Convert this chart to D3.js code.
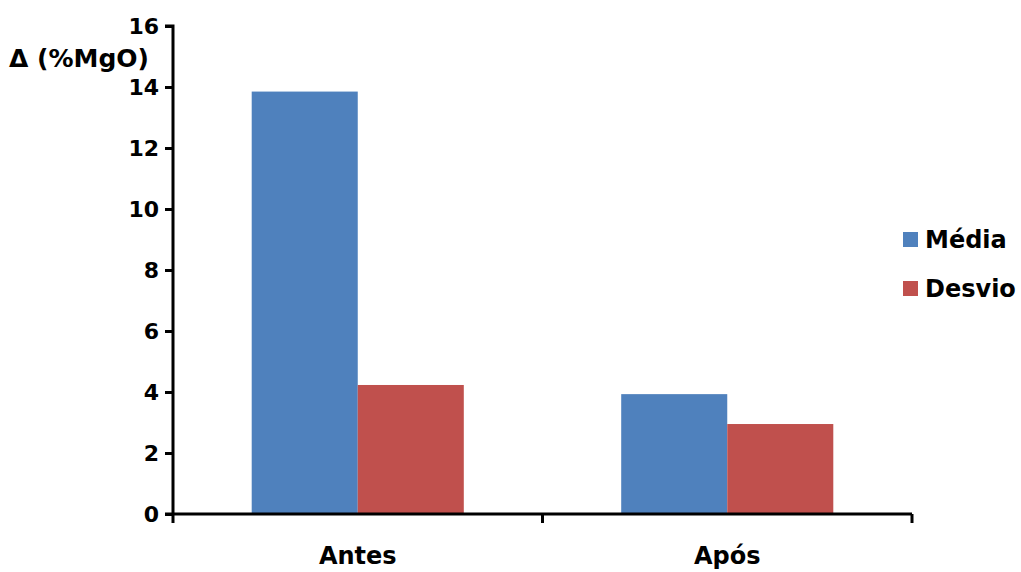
<!DOCTYPE html>
<html><head><meta charset="utf-8">
<script src="https://cdn.jsdelivr.net/npm/d3@7"></script>
<style>body{margin:0;background:#fff}svg{display:block}text{font-family:"DejaVu Sans",sans-serif;font-weight:bold;fill:#000}</style>
</head><body><svg id="c" width="1021" height="572"></svg>
<script>
const categories = ["Antes", "Após"];
const seriesNames = ["Média", "Desvio"];
const media = [13.85, 3.93];
const desvio = [4.23, 2.95];
const yTicks = [0, 2, 4, 6, 8, 10, 12, 14, 16];
const colors = ["#4F81BD", "#C0504D"];

const svg = d3.select("#c");
const x0 = 173, x1 = 912, yTop = 26, yBot = 514;
const x = d3.scaleBand().domain(categories).range([x0, x1]).padding(0);
const y = d3.scaleLinear().domain([0, 16]).range([yBot, yTop]);
const groupW = x.bandwidth() * 0.574;
const xs = d3.scaleBand().domain(seriesNames).range([0, groupW]).padding(0);
const data = [media, desvio];

// bars
seriesNames.forEach((s, si) => {
  svg.append("g").selectAll("rect").data(categories).join("rect")
    .attr("x", d => x(d) + (x.bandwidth() - groupW) / 2 + xs(s))
    .attr("width", xs.bandwidth())
    .attr("y", (d, i) => y(data[si][i]))
    .attr("height", (d, i) => y(0) - y(data[si][i]))
    .attr("fill", colors[si]);
});

// y axis
const yAxis = d3.axisLeft(y).tickValues(yTicks).tickSize(8).tickPadding(6);
const gy = svg.append("g").attr("transform", `translate(${x0},0)`).call(yAxis);
gy.select(".domain").attr("stroke", "#000").attr("stroke-width", 3).attr("d", `M-8,${yTop}H0V${yBot}`);
gy.selectAll(".tick line").attr("stroke", "#000").attr("stroke-width", 3);
gy.selectAll(".tick text").attr("font-size", 22).attr("font-family", "DejaVu Sans").attr("font-weight", "bold").attr("fill", "#000");

// x axis
const gx = svg.append("g").attr("transform", `translate(0,${yBot})`);
gx.append("line").attr("x1", x0 - 8).attr("x2", x1).attr("y1", 0).attr("y2", 0).attr("stroke", "#000").attr("stroke-width", 3);
const bounds = categories.map(c => x(c)).concat([x1]);
gx.selectAll("line.t").data(bounds).join("line").attr("class", "t")
  .attr("x1", d => d).attr("x2", d => d).attr("y1", 0).attr("y2", 9)
  .attr("stroke", "#000").attr("stroke-width", 3);
gx.selectAll("text").data(categories).join("text")
  .attr("x", d => x(d) + x.bandwidth() / 2).attr("y", 50)
  .attr("text-anchor", "middle").attr("font-size", 24).text(d => d);

// y title
svg.append("text").attr("x", 149).attr("y", 67).attr("text-anchor", "end").attr("font-size", 25).text("Δ (%MgO)");

// legend
const lg = svg.append("g").attr("transform", "translate(903,232)");
seriesNames.forEach((s, i) => {
  lg.append("rect").attr("x", 0).attr("y", i * 49).attr("width", 15).attr("height", 15).attr("fill", colors[i]);
  lg.append("text").attr("x", 22).attr("y", i * 49 + 16).attr("font-size", 24).text(s);
});
</script></body></html>
